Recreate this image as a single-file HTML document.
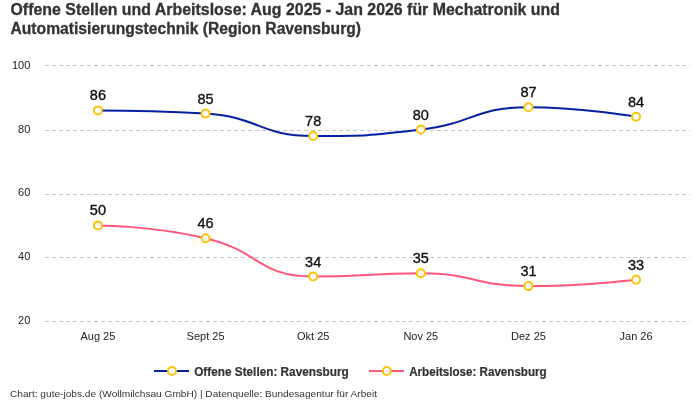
<!DOCTYPE html><html><head><meta charset="utf-8"><style>html,body{margin:0;padding:0;background:#fff;width:700px;height:400px;overflow:hidden}svg{display:block;will-change:transform}text{font-family:"Liberation Sans",sans-serif}</style></head><body>
<svg width="700" height="400" viewBox="0 0 700 400">
<rect width="700" height="400" fill="#fff"/>
<text x="10.5" y="14.8" font-size="16" font-weight="bold" fill="#333333" stroke="#333333" stroke-width="0.3" textLength="549.5" lengthAdjust="spacingAndGlyphs">Offene Stellen und Arbeitslose: Aug 2025 - Jan 2026 für Mechatronik und</text>
<text x="10.5" y="33.8" font-size="16" font-weight="bold" fill="#333333" stroke="#333333" stroke-width="0.3" textLength="350.5" lengthAdjust="spacingAndGlyphs">Automatisierungstechnik (Region Ravensburg)</text>
<line x1="45" y1="65.5" x2="690" y2="65.5" stroke="#c8c8c8" stroke-width="1" stroke-dasharray="4 3"/>
<text x="30.3" y="68.65" font-size="11" fill="#222" text-anchor="end">100</text>
<line x1="45" y1="130.5" x2="690" y2="130.5" stroke="#c8c8c8" stroke-width="1" stroke-dasharray="4 3"/>
<text x="30.3" y="132.55" font-size="11" fill="#222" text-anchor="end">80</text>
<line x1="45" y1="194.5" x2="690" y2="194.5" stroke="#c8c8c8" stroke-width="1" stroke-dasharray="4 3"/>
<text x="30.3" y="196.45" font-size="11" fill="#222" text-anchor="end">60</text>
<line x1="45" y1="257.5" x2="690" y2="257.5" stroke="#c8c8c8" stroke-width="1" stroke-dasharray="4 3"/>
<text x="30.3" y="260.35" font-size="11" fill="#222" text-anchor="end">40</text>
<line x1="45" y1="321.5" x2="690" y2="321.5" stroke="#c8c8c8" stroke-width="1" stroke-dasharray="4 3"/>
<text x="30.3" y="324.25" font-size="11" fill="#222" text-anchor="end">20</text>
<text x="97.90" y="339.7" font-size="11" fill="#222" text-anchor="middle">Aug 25</text>
<text x="205.54" y="339.7" font-size="11" fill="#222" text-anchor="middle">Sept 25</text>
<text x="313.18" y="339.7" font-size="11" fill="#222" text-anchor="middle">Okt 25</text>
<text x="420.82" y="339.7" font-size="11" fill="#222" text-anchor="middle">Nov 25</text>
<text x="528.46" y="339.7" font-size="11" fill="#222" text-anchor="middle">Dez 25</text>
<text x="636.10" y="339.7" font-size="11" fill="#222" text-anchor="middle">Jan 26</text>
<path d="M97.90 110.38 C97.90 110.38 152.28 110.38 205.54 113.57 C259.92 116.84 258.84 135.94 313.18 135.94 C366.48 135.94 367.52 135.94 420.82 129.55 C475.16 123.03 474.18 107.18 528.46 107.18 C581.82 107.18 636.10 116.77 636.10 116.77" fill="none" stroke="#0520a0" stroke-width="2"/>
<path d="M97.90 225.40 C97.90 225.40 153.14 225.74 205.54 238.18 C260.78 251.30 257.77 276.52 313.18 276.52 C365.41 276.52 367.18 273.32 420.82 273.32 C474.82 273.32 474.50 286.11 528.46 286.11 C582.14 286.11 636.10 279.71 636.10 279.71" fill="none" stroke="#ff587a" stroke-width="2"/>
<circle cx="97.90" cy="110.38" r="4" fill="#fff" stroke="#ffc20a" stroke-width="2"/>
<text x="97.90" y="100.38" font-size="14.5" fill="#111" stroke="#111" stroke-width="0.35" text-anchor="middle">86</text>
<circle cx="205.54" cy="113.57" r="4" fill="#fff" stroke="#ffc20a" stroke-width="2"/>
<text x="205.54" y="103.57" font-size="14.5" fill="#111" stroke="#111" stroke-width="0.35" text-anchor="middle">85</text>
<circle cx="313.18" cy="135.94" r="4" fill="#fff" stroke="#ffc20a" stroke-width="2"/>
<text x="313.18" y="125.94" font-size="14.5" fill="#111" stroke="#111" stroke-width="0.35" text-anchor="middle">78</text>
<circle cx="420.82" cy="129.55" r="4" fill="#fff" stroke="#ffc20a" stroke-width="2"/>
<text x="420.82" y="119.55" font-size="14.5" fill="#111" stroke="#111" stroke-width="0.35" text-anchor="middle">80</text>
<circle cx="528.46" cy="107.18" r="4" fill="#fff" stroke="#ffc20a" stroke-width="2"/>
<text x="528.46" y="97.18" font-size="14.5" fill="#111" stroke="#111" stroke-width="0.35" text-anchor="middle">87</text>
<circle cx="636.10" cy="116.77" r="4" fill="#fff" stroke="#ffc20a" stroke-width="2"/>
<text x="636.10" y="106.77" font-size="14.5" fill="#111" stroke="#111" stroke-width="0.35" text-anchor="middle">84</text>
<circle cx="97.90" cy="225.40" r="4" fill="#fff" stroke="#ffc20a" stroke-width="2"/>
<text x="97.90" y="215.40" font-size="14.5" fill="#111" stroke="#111" stroke-width="0.35" text-anchor="middle">50</text>
<circle cx="205.54" cy="238.18" r="4" fill="#fff" stroke="#ffc20a" stroke-width="2"/>
<text x="205.54" y="228.18" font-size="14.5" fill="#111" stroke="#111" stroke-width="0.35" text-anchor="middle">46</text>
<circle cx="313.18" cy="276.52" r="4" fill="#fff" stroke="#ffc20a" stroke-width="2"/>
<text x="313.18" y="266.52" font-size="14.5" fill="#111" stroke="#111" stroke-width="0.35" text-anchor="middle">34</text>
<circle cx="420.82" cy="273.32" r="4" fill="#fff" stroke="#ffc20a" stroke-width="2"/>
<text x="420.82" y="263.32" font-size="14.5" fill="#111" stroke="#111" stroke-width="0.35" text-anchor="middle">35</text>
<circle cx="528.46" cy="286.11" r="4" fill="#fff" stroke="#ffc20a" stroke-width="2"/>
<text x="528.46" y="276.11" font-size="14.5" fill="#111" stroke="#111" stroke-width="0.35" text-anchor="middle">31</text>
<circle cx="636.10" cy="279.71" r="4" fill="#fff" stroke="#ffc20a" stroke-width="2"/>
<text x="636.10" y="269.71" font-size="14.5" fill="#111" stroke="#111" stroke-width="0.35" text-anchor="middle">33</text>
<line x1="154" y1="371" x2="189" y2="371" stroke="#0520a0" stroke-width="2"/>
<circle cx="172" cy="371" r="4" fill="#fff" stroke="#ffc20a" stroke-width="2"/>
<text x="194.2" y="375.7" font-size="12" font-weight="bold" fill="#333333" stroke="#333333" stroke-width="0.2" textLength="154.5" lengthAdjust="spacingAndGlyphs">Offene Stellen: Ravensburg</text>
<line x1="369" y1="371" x2="404" y2="371" stroke="#ff587a" stroke-width="2"/>
<circle cx="386.8" cy="371" r="4" fill="#fff" stroke="#ffc20a" stroke-width="2"/>
<text x="409.2" y="375.7" font-size="12" font-weight="bold" fill="#333333" stroke="#333333" stroke-width="0.2" textLength="137.5" lengthAdjust="spacingAndGlyphs">Arbeitslose: Ravensburg</text>
<text x="10" y="396.7" font-size="9.8" fill="#333" textLength="367" lengthAdjust="spacingAndGlyphs">Chart: gute-jobs.de (Wollmilchsau GmbH) | Datenquelle: Bundesagentur für Arbeit</text>
</svg></body></html>
